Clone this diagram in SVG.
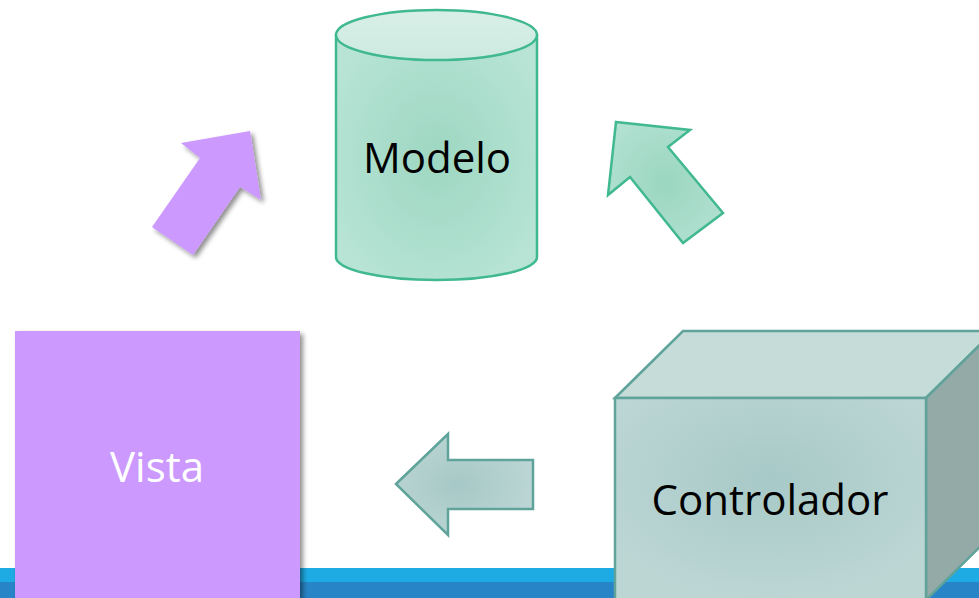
<svg xmlns="http://www.w3.org/2000/svg" width="979" height="598" viewBox="0 0 979 598">
  <defs>
    <radialGradient id="gModel" cx="0.5" cy="0.5" r="0.6">
      <stop offset="0" stop-color="#9dd7c2"/>
      <stop offset="1" stop-color="#b8e4d5"/>
    </radialGradient>
    <linearGradient id="gModelTop" x1="0" y1="0" x2="0" y2="1">
      <stop offset="0" stop-color="#d8efe8"/>
      <stop offset="1" stop-color="#cdeae0"/>
    </linearGradient>
    <radialGradient id="gGreenArrow" cx="0.5" cy="0.5" r="0.6">
      <stop offset="0" stop-color="#9ad6c0"/>
      <stop offset="1" stop-color="#b2e1d1"/>
    </radialGradient>
    <radialGradient id="gFront" cx="0.5" cy="0.4" r="0.6">
      <stop offset="0" stop-color="#a7c9c7"/>
      <stop offset="1" stop-color="#bcd6d4"/>
    </radialGradient>
    <radialGradient id="gGrayArrow" cx="0.45" cy="0.5" r="0.6">
      <stop offset="0" stop-color="#a6c8c6"/>
      <stop offset="1" stop-color="#bdd7d5"/>
    </radialGradient>
    <filter id="shadow" x="-20%" y="-20%" width="150%" height="150%">
      <feGaussianBlur in="SourceAlpha" stdDeviation="2.5"/>
      <feOffset dx="3" dy="3" result="b"/>
      <feComponentTransfer><feFuncA type="linear" slope="0.45"/></feComponentTransfer>
      <feMerge><feMergeNode/><feMergeNode in="SourceGraphic"/></feMerge>
    </filter>
  </defs>
  <style>
    .label { font-family: "Open Sans", "Noto Sans", "Liberation Sans", sans-serif; font-size: 42px; text-anchor: middle; }
    .green { stroke: #40b890; stroke-width: 2.5; stroke-linejoin: miter; }
    .teal { stroke: #5fa39a; stroke-width: 2.5; stroke-linejoin: miter; }
  </style>

  <rect width="979" height="598" fill="#ffffff"/>

  <!-- footer band -->
  <g id="footer">
    <rect x="0" y="568" width="979" height="14" fill="#1eaae2"/>
    <rect x="0" y="582" width="979" height="16" fill="#2784c6"/>
  </g>

  <!-- Modelo: cylinder -->
  <g id="modelo">
    <path class="green" fill="url(#gModel)" d="M336,35 L336,257 A100.5,23 0 0 0 537,257 L537,35 Z"/>
    <ellipse class="green" cx="436.5" cy="35" rx="100.5" ry="25" fill="url(#gModelTop)"/>
    <text class="label" x="437" y="173" fill="#000000">Modelo</text>
  </g>

  <!-- Vista: square -->
  <g id="vista">
    <rect x="15" y="331" width="285" height="280" fill="#cc99ff" filter="url(#shadow)"/>
    <text class="label" x="157" y="482" fill="#ffffff">Vista</text>
  </g>

  <!-- Controlador: cube -->
  <g id="controlador">
    <polygon class="teal" fill="#c5dcd8" points="615,398 683,331 994,331 926,398"/>
    <polygon class="teal" fill="#93aaa6" points="926,398 994,331 994,533 926,600"/>
    <rect class="teal" x="615" y="398" width="311" height="202" fill="url(#gFront)"/>
    <text class="label" x="770" y="515" fill="#000000">Controlador</text>
  </g>

  <!-- arrows between the parts -->
  <g id="connectors">
    <polygon id="vista-to-modelo" fill="#cc99ff" filter="url(#shadow)"
             points="250,131 261,200 240,187 193,255 152,227 200,158 181,143"/>
    <polygon id="controlador-to-modelo" class="green" fill="url(#gGreenArrow)"
             points="616,122 690,130 668,147 723,213 683,243 630,177 608,195"/>
    <polygon id="controlador-to-vista" class="teal" fill="url(#gGrayArrow)"
             points="396,484 448,434 448,460 533,460 533,509 448,509 448,535"/>
  </g>
</svg>
